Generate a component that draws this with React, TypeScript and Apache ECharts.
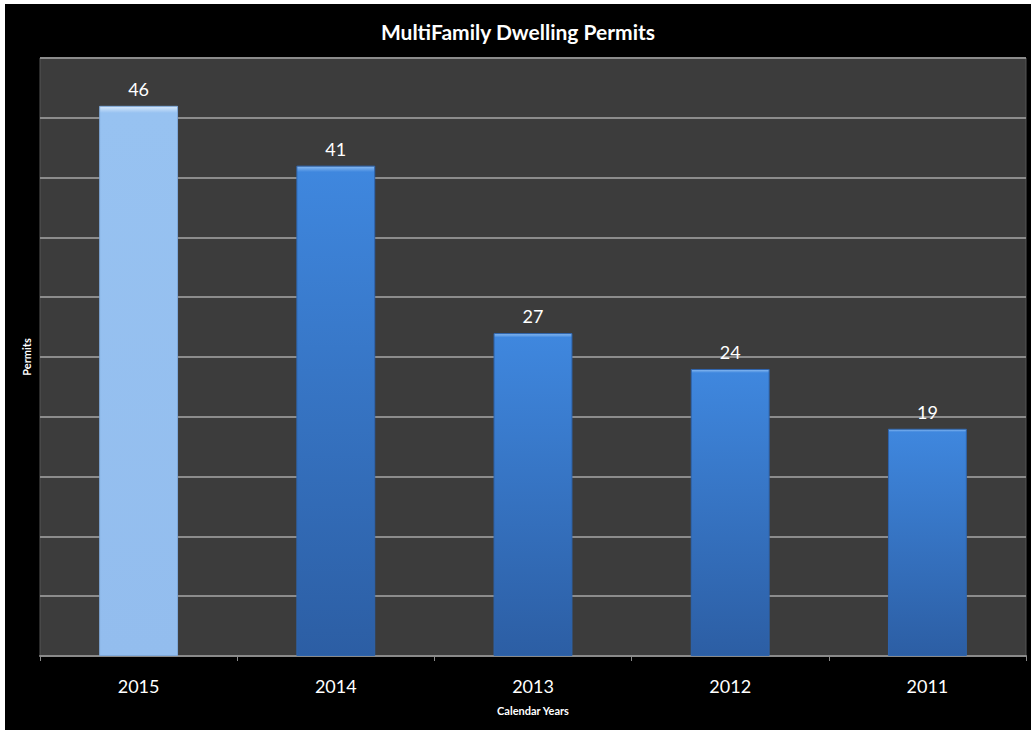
import React, { useEffect, useRef } from "react";
import * as echarts from "echarts";

const categories = ["2015", "2014", "2013", "2012", "2011"];
const permits = [46, 41, 27, 24, 19];
const highlightIndex = 0;
const titleText = "MultiFamily Dwelling Permits";
const xAxisName = "Calendar Years";
const yAxisName = "Permits";

const FONT = "Lato, 'Open Sans', sans-serif";

export default function App() {
  const ref = useRef<HTMLDivElement>(null);
  useEffect(() => {
    if (!ref.current) return;
    const chart = echarts.init(ref.current, undefined, { renderer: "svg" });
    const darkBlue = new echarts.graphic.LinearGradient(0, 0, 0, 1, [
      { offset: 0, color: "#8cbcf2" },
      { offset: 0.012, color: "#3f87de" },
      { offset: 1, color: "#2c5ea4" },
    ]);
    const lightBlue = new echarts.graphic.LinearGradient(0, 0, 0, 1, [
      { offset: 0, color: "#d6e8fb" },
      { offset: 0.012, color: "#97c2f1" },
      { offset: 1, color: "#93bdee" },
    ]);
    chart.setOption({
      animation: false,
      backgroundColor: "#000000",
      title: {
        text: titleText,
        left: "center",
        top: 12,
        textStyle: { color: "#ffffff", fontSize: 21, fontWeight: "bold", fontFamily: FONT },
      },
      grid: {
        left: 35,
        right: 5,
        top: 54,
        bottom: 74,
        show: true,
        backgroundColor: "#3c3c3c",
        borderColor: "#555555",
        borderWidth: 1,
      },
      xAxis: {
        type: "category",
        data: categories,
        name: xAxisName,
        nameLocation: "middle",
        nameGap: 49,
        nameTextStyle: { color: "#ffffff", fontSize: 11, fontWeight: "bold", fontFamily: FONT },
        axisLine: { lineStyle: { color: "#8a8a8a", width: 2 } },
        axisTick: { show: true, length: 5, lineStyle: { color: "#8a8a8a" } },
        axisLabel: { color: "#ffffff", fontSize: 18, margin: 21, fontFamily: FONT },
      },
      yAxis: {
        type: "value",
        min: 0,
        max: 50,
        interval: 5,
        name: yAxisName,
        nameLocation: "middle",
        nameGap: 8,
        nameTextStyle: { color: "#ffffff", fontSize: 11, fontWeight: "bold", fontFamily: FONT },
        axisLabel: { show: false },
        axisLine: { show: false },
        axisTick: { show: false },
        splitLine: { lineStyle: { color: "#8c8c8c", width: 2 } },
      },
      series: [
        {
          type: "bar",
          barCategoryGap: "60%",
          data: permits.map((v, i) => ({
            value: v,
            itemStyle: {
              color: i === highlightIndex ? lightBlue : darkBlue,
              borderColor: i === highlightIndex ? "#7fa9da" : "#2e64ad",
              borderWidth: 1,
            },
          })),
          label: {
            show: true,
            position: "top",
            distance: 8,
            color: "#ffffff",
            fontSize: 18,
            fontFamily: FONT,
          },
        },
      ],
    });
    return () => chart.dispose();
  }, []);
  return (
    <div style={{ position: "absolute", left: 0, top: 0, width: 1031, height: 730, background: "#ffffff" }}>
      <div ref={ref} style={{ position: "absolute", left: 5, top: 4, width: 1026, height: 726 }} />
    </div>
  );
}
